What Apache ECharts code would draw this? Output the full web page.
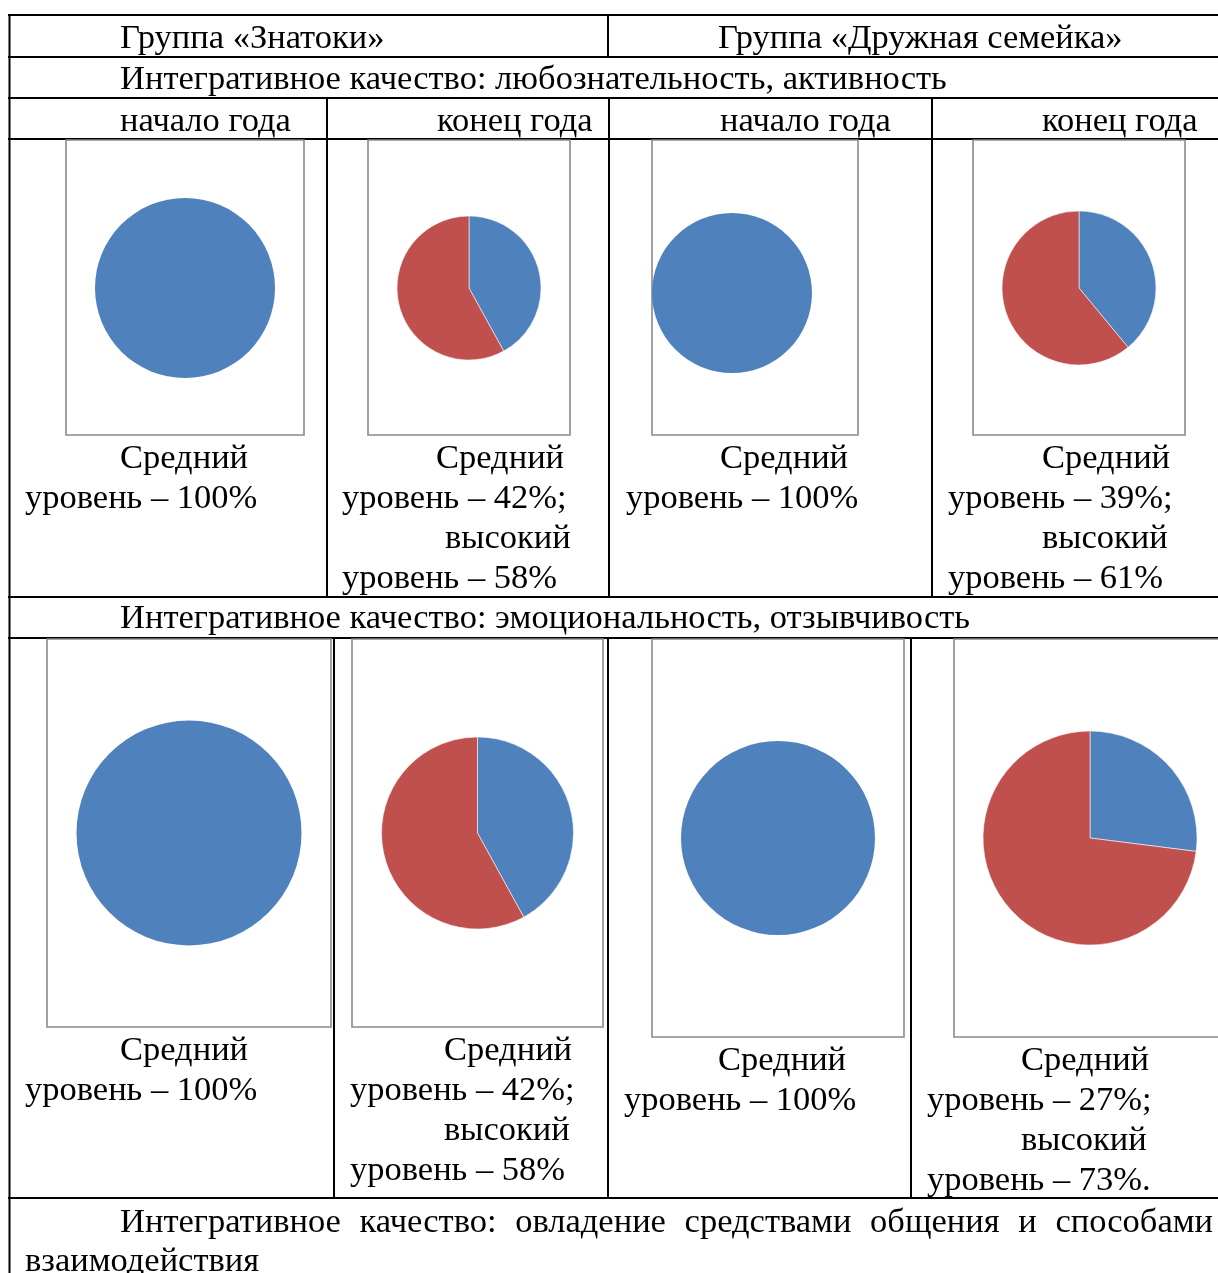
<!DOCTYPE html>
<html>
<head>
<meta charset="utf-8">
<script src="https://cdn.jsdelivr.net/npm/echarts@6/dist/echarts.min.js"></script>
<style>
html,body{margin:0;padding:0;background:#fff;}
#chart{width:1218px;height:1273px;}
</style>
</head>
<body>
<div id="chart"></div>
<script>
// ---- data ----
const groups = ['Группа «Знатоки»', 'Группа «Дружная семейка»'];
const qualities = [
  'Интегративное качество: любознательность, активность',
  'Интегративное качество: эмоциональность, отзывчивость',
  'Интегративное качество: овладение средствами общения и способами взаимодействия'
];
const periods = ['начало года', 'конец года'];
const levelNames = ['Средний уровень', 'Высокий уровень'];
// order: quality1 (Знатоки нач, Знатоки кон, Дружная нач, Дружная кон), quality2 (same)
const mediumLevel = [100, 42, 100, 39, 100, 42, 100, 27];
const highLevel   = [0, 58, 0, 61, 0, 58, 0, 73];

// ---- layout ----
const FONT = '"Liberation Serif", "Times New Roman", serif';
const FS = 34.5;
const DY = 2;
const BLUE = '#4F81BD', RED = '#C0504D';
const W = 1218;
const hLines = [15, 57, 98, 139, 597, 638, 1198];
const vLines = [
  [608, 15, 57],
  [327, 98, 597], [609, 98, 597], [932, 98, 597],
  [334, 638, 1198], [608, 638, 1198], [911, 638, 1198]
];
const frames = [
  [66,140,304,435],[368,140,570,435],[652,140,858,435],[973,140,1185,435],
  [47,639,331,1027],[352,639,603,1027],[652,639,904,1037],[954,639,1240,1037]
];
const pies = [
  [185,288,90],[469,288,72],[732,293,80],[1079,288,77],
  [189,833,112.5],[477.5,833,96],[778,838,97],[1090,838,107]
];
// [indentX, lineX, firstY, highWordX]
const captionPos = [
  [120,25,457,0],[436,342,457,445],[720,626,457,0],[1042,948,457,1042],
  [120,25,1049,0],[444,350,1049,444],[718,624,1059,0],[1021,927,1059,1021]
];
const LH = 40;

const graphics = [];
function txt(s, x, y) {
  graphics.push({type:'text', x:x, y:y + DY, style:{text:s, font: FS + 'px ' + FONT, fill:'#000', textVerticalAlign:'middle', textAlign:'left'}});
}
function line(x1,y1,x2,y2,color,w) {
  graphics.push({type:'line', shape:{x1:x1,y1:y1,x2:x2,y2:y2}, style:{stroke:color, lineWidth:w}});
}
// table lines
hLines.forEach(y => line(8, y, W, y, '#000', 2));
line(9.5, 14, 9.5, 1273, '#000', 2);
vLines.forEach(v => line(v[0], v[1], v[0], v[2], '#000', 2));
// chart frames
frames.forEach(f => graphics.push({type:'rect', shape:{x:f[0],y:f[1],width:f[2]-f[0],height:f[3]-f[1]}, style:{fill:'#fff', stroke:'#8a8a8a', lineWidth:1.6}}));

// header texts
txt(groups[0], 120, 37);
txt(groups[1], 718, 37);
txt(qualities[0], 120, 78);
const periodX = [120, 437, 720, 1042];
periodX.forEach((x,i) => txt(periods[i % 2], x, 120));
txt(qualities[1], 120, 617);

// captions
const lastIdx = mediumLevel.length - 1;
mediumLevel.forEach((m, i) => {
  const h = highLevel[i];
  const p = captionPos[i];
  txt('Средний', p[0], p[2]);
  txt('уровень – ' + m + '%' + (h > 0 ? ';' : ''), p[1], p[2] + LH);
  if (h > 0) {
    txt('высокий', p[3], p[2] + 2*LH);
    txt('уровень – ' + h + '%' + (i === lastIdx ? '.' : ''), p[1], p[2] + 3*LH);
  }
});

// justified third quality text
(function(){
  const c = document.createElement('canvas').getContext('2d');
  c.font = FS + 'px ' + FONT;
  const words = qualities[2].split(' ');
  const first = words.slice(0, words.length - 1);
  const widths = first.map(w => c.measureText(w).width);
  const total = widths.reduce((a,b)=>a+b,0);
  const x0 = 120, x1 = 1213;
  const gap = (x1 - x0 - total) / (first.length - 1);
  let x = x0;
  first.forEach((w, i) => { txt(w, x, 1221); x += widths[i] + gap; });
  txt(words[words.length - 1], 25, 1260);
})();

// pie series (zero-value slices omitted so full circles have no seam)
const series = mediumLevel.map((m, i) => {
  const items = [
    {name: levelNames[0], value: m, itemStyle:{color: BLUE}},
    {name: levelNames[1], value: highLevel[i], itemStyle:{color: RED}}
  ].filter(d => d.value > 0);
  return {
    type: 'pie',
    silent: true,
    animation: false,
    center: [pies[i][0], pies[i][1]],
    radius: pies[i][2],
    startAngle: 90,
    clockwise: true,
    label: {show:false},
    labelLine: {show:false},
    itemStyle: {borderColor: 'rgba(255,255,255,0.7)', borderWidth: items.length > 1 ? 0.8 : 0},
    data: items
  };
});

const chart = echarts.init(document.getElementById('chart'), null, {renderer:'canvas'});
chart.setOption({
  animation: false,
  backgroundColor: '#fff',
  graphic: {elements: graphics},
  series: series
});
</script>
</body>
</html>
